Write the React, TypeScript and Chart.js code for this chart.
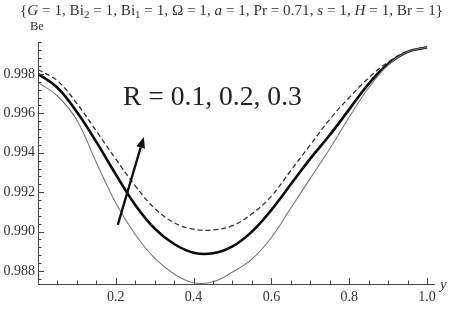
import React, { useEffect, useRef } from "react";
import { Chart, registerables } from "chart.js";

Chart.register(...registerables);

// ---- data ----
const xValues = [0, 0.05, 0.1, 0.15, 0.2, 0.25, 0.3, 0.35, 0.4, 0.45, 0.5, 0.55, 0.6, 0.65, 0.7, 0.75, 0.8, 0.85, 0.9, 0.95, 1.0];
const beR01 = [0.99757, 0.99688, 0.99565, 0.9935, 0.99145, 0.98985, 0.98865, 0.98785, 0.9874, 0.98745, 0.98795, 0.9886, 0.9897, 0.9912, 0.9927, 0.9942, 0.9958, 0.9973, 0.99845, 0.99912, 0.99935];
const beR02 = [0.998, 0.9973, 0.99607, 0.99455, 0.9929, 0.99135, 0.99015, 0.98937, 0.98893, 0.9889, 0.98925, 0.99, 0.9911, 0.9924, 0.9937, 0.9949, 0.9962, 0.9975, 0.9985, 0.99912, 0.99935];
const beR03 = [0.99822, 0.99765, 0.9965, 0.9951, 0.99368, 0.99232, 0.99118, 0.99045, 0.99012, 0.99008, 0.9903, 0.9909, 0.9918, 0.9931, 0.9944, 0.9957, 0.9968, 0.9978, 0.9986, 0.99915, 0.99935];
const yTickValues = [0.988, 0.99, 0.992, 0.994, 0.996, 0.998];
const xTickValues = [0.2, 0.4, 0.6, 0.8, 1.0];
const yMinorStep = 0.0004;
const xMinorStep = 0.05;
const xMin = 0;
const xMax = 1.018;
const yMin = 0.98734;
const yMax = 0.99962;

const titleParts: { t: string; italic?: boolean; sub?: boolean }[] = [
  { t: "{" },
  { t: "G", italic: true },
  { t: " = 1, Bi" },
  { t: "2", sub: true },
  { t: " = 1, Bi" },
  { t: "1", sub: true },
  { t: " = 1, Ω = 1, " },
  { t: "a", italic: true },
  { t: " = 1, Pr = 0.71, " },
  { t: "s", italic: true },
  { t: " = 1, " },
  { t: "H", italic: true },
  { t: " = 1, Br = 1}" },
];
const annotationText = "R = 0.1, 0.2, 0.3";
const annotationAt = [0.2185, 0.99643];
const arrowFrom = [0.205, 0.99034];
const arrowTo = [0.272, 0.9948];
const yAxisTitle = "Be";
const xAxisTitle = "y";

const SERIF = '"Liberation Serif", "DejaVu Serif", serif';
const TEXT = "#333333";

const toPoints = (ys: number[]) => xValues.map((x, i) => ({ x, y: ys[i] }));

const decorPlugin = {
  id: "decor",
  afterDraw(chart: any) {
    const ctx = chart.ctx as CanvasRenderingContext2D;
    const xs = chart.scales.x;
    const ys = chart.scales.y;
    const area = chart.chartArea;
    ctx.save();
    // inward ticks
    ctx.strokeStyle = "#444";
    ctx.lineWidth = 1;
    ctx.beginPath();
    const nY = Math.round((yMax - 0.986) / yMinorStep);
    for (let k = 0; k <= nY; k++) {
      const v = 0.986 + k * yMinorStep;
      if (v < yMin || v > yMax) continue;
      const p = Math.round(ys.getPixelForValue(v)) + 0.5;
      const major = yTickValues.some((t) => Math.abs(t - v) < 1e-7);
      ctx.moveTo(area.left, p);
      ctx.lineTo(area.left + (major ? 6 : 3.5), p);
    }
    for (let k = 1; k * xMinorStep <= xMax; k++) {
      const v = k * xMinorStep;
      const p = Math.round(xs.getPixelForValue(v)) + 0.5;
      const major = xTickValues.some((t) => Math.abs(t - v) < 1e-7);
      ctx.moveTo(p, area.bottom);
      ctx.lineTo(p, area.bottom - (major ? 6 : 3.5));
    }
    ctx.stroke();

    // title
    const base = 13;
    const measure = (size: number) => {
      let w = 0;
      for (const part of titleParts) {
        const s = part.sub ? size * 0.72 : size;
        ctx.font = `${part.italic ? "italic " : ""}${s}px ${SERIF}`;
        w += ctx.measureText(part.t).width;
      }
      return w;
    };
    const size = Math.round(((base * 423) / measure(base)) * 10) / 10;
    let tx = 20;
    ctx.fillStyle = TEXT;
    ctx.textBaseline = "alphabetic";
    ctx.textAlign = "left";
    for (const part of titleParts) {
      const s = part.sub ? Math.round(size * 7.2) / 10 : size;
      ctx.font = `${part.italic ? "italic " : ""}${s}px ${SERIF}`;
      ctx.fillText(part.t, tx, part.sub ? 18 : 15);
      tx += ctx.measureText(part.t).width;
    }

    // axis titles
    ctx.font = `12.5px ${SERIF}`;
    ctx.fillText(yAxisTitle, 30, 29.5);
    ctx.font = `italic 15px ${SERIF}`;
    ctx.fillText(xAxisTitle, 440, 289);

    // annotation
    ctx.fillStyle = "#222";
    let fs = 26;
    ctx.font = `${fs}px ${SERIF}`;
    fs = Math.round(((fs * 179) / ctx.measureText(annotationText).width) * 10) / 10;
    ctx.font = `${fs}px ${SERIF}`;
    ctx.fillText(annotationText, xs.getPixelForValue(annotationAt[0]), ys.getPixelForValue(annotationAt[1]));

    // arrow
    const x1 = xs.getPixelForValue(arrowFrom[0]);
    const y1 = ys.getPixelForValue(arrowFrom[1]);
    const x2 = xs.getPixelForValue(arrowTo[0]);
    const y2 = ys.getPixelForValue(arrowTo[1]);
    const ang = Math.atan2(y2 - y1, x2 - x1);
    const headLen = 11;
    const headW = 4.5;
    const bx = x2 - headLen * Math.cos(ang);
    const by = y2 - headLen * Math.sin(ang);
    ctx.strokeStyle = "#111";
    ctx.lineWidth = 2.4;
    ctx.beginPath();
    ctx.moveTo(x1, y1);
    ctx.lineTo(bx, by);
    ctx.stroke();
    ctx.fillStyle = "#111";
    ctx.beginPath();
    ctx.moveTo(x2, y2);
    ctx.lineTo(bx + headW * Math.sin(ang), by - headW * Math.cos(ang));
    ctx.lineTo(bx - headW * Math.sin(ang), by + headW * Math.cos(ang));
    ctx.closePath();
    ctx.fill();
    ctx.restore();
  },
};

export default function App() {
  const ref = useRef<HTMLCanvasElement | null>(null);
  useEffect(() => {
    const prevMargin = document.body.style.margin;
    document.body.style.margin = "0";
    const canvas = ref.current!;
    const common = { pointRadius: 0, tension: 0.4 };
    const chart = new Chart(canvas, {
      type: "line",
      data: {
        datasets: [
          { label: "R = 0.1", data: toPoints(beR01), borderColor: "#777777", borderWidth: 1.1, ...common },
          { label: "R = 0.2", data: toPoints(beR02), borderColor: "#0a0a0a", borderWidth: 2.6, ...common },
          { label: "R = 0.3", data: toPoints(beR03), borderColor: "#333333", borderWidth: 1.3, borderDash: [5, 3], ...common },
        ],
      },
      options: {
        responsive: false,
        animation: false,
        events: [],
        layout: { padding: { top: 42, right: 15, left: 0, bottom: 0 } },
        plugins: { legend: { display: false }, tooltip: { enabled: false }, title: { display: false } },
        scales: {
          x: {
            type: "linear",
            min: xMin,
            max: xMax,
            grid: { display: false, drawTicks: false },
            border: { display: true, color: "#444", width: 1 },
            afterBuildTicks: (s: any) => {
              s.ticks = xTickValues.map((value) => ({ value }));
            },
            afterFit: (s: any) => {
              s.height = 26;
            },
            ticks: {
              padding: 5,
              maxRotation: 0,
              autoSkip: false,
              color: TEXT,
              font: { family: SERIF, size: 14 },
              callback: (v: any) => Number(v).toFixed(1),
            },
          },
          y: {
            type: "linear",
            min: yMin,
            max: yMax,
            grid: { display: false, drawTicks: false },
            border: { display: true, color: "#444", width: 1 },
            afterBuildTicks: (s: any) => {
              s.ticks = yTickValues.map((value) => ({ value }));
            },
            afterFit: (s: any) => {
              s.width = 38;
            },
            ticks: {
              padding: 3,
              autoSkip: false,
              color: TEXT,
              font: { family: SERIF, size: 14 },
              callback: (v: any) => Number(v).toFixed(3),
            },
          },
        },
      },
      plugins: [decorPlugin],
    });
    return () => {
      chart.destroy();
      document.body.style.margin = prevMargin;
    };
  }, []);
  return (
    <div style={{ position: "absolute", left: 0, top: 0, width: 449, height: 310, background: "#fff" }}>
      <canvas ref={ref} width={449} height={310} style={{ width: 449, height: 310, display: "block" }} />
    </div>
  );
}
